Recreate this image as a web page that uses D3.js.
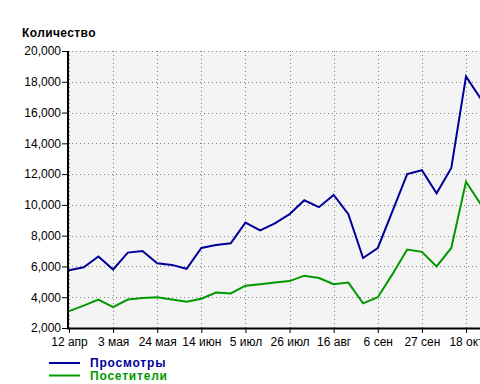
<!DOCTYPE html>
<html><head><meta charset="utf-8">
<script src="https://cdn.jsdelivr.net/npm/d3@7"></script>
<style>body{margin:0;background:#fff}svg{display:block}</style>
</head><body><svg id="c" width="480" height="384"></svg>
<script>
const weeks = ["12 апр","19 апр","26 апр","3 мая","10 мая","17 мая","24 мая","31 мая","7 июн","14 июн","21 июн","28 июн","5 июл","12 июл","19 июл","26 июл","2 авг","9 авг","16 авг","23 авг","30 авг","6 сен","13 сен","20 сен","27 сен","4 окт","11 окт","18 окт","25 окт"];
const views = [5750,5950,6650,5800,6900,7000,6200,6100,5850,7200,7400,7500,8850,8350,8800,9400,10300,9850,10650,9400,6550,7200,9600,12000,12250,10750,12400,18350,16900];
const visitors = [3100,3450,3850,3350,3850,3950,4000,3850,3700,3900,4300,4250,4750,4850,4950,5050,5400,5250,4850,4950,3600,4000,5500,7100,6950,6000,7200,11500,10050];
const yTicks = [2000,4000,6000,8000,10000,12000,14000,16000,18000,20000];
const xTickIdx = [0,3,6,9,12,15,18,21,24,27];
const seriesNames = ["Просмотры","Посетители"];
const colors = ["#000099","#009900"];

const svg = d3.select("#c");
const pL = 68, pT = 51, pB = 328, pR = 495;
const x = d3.scaleLinear().domain([0,27]).range([69,466]);
const y = d3.scaleLinear().domain([2000,20000]).range([pB, pT]);

svg.append("rect").attr("x",pL).attr("y",pT).attr("width",pR-pL).attr("height",pB-pT).attr("fill","#f4f4f4");

// grid
const g = svg.append("g").attr("stroke","#808080").attr("stroke-width",1).attr("stroke-dasharray","1,3");
yTicks.forEach(t=>{ g.append("line").attr("x1",pL).attr("x2",pR).attr("y1",Math.round(y(t))+0.5).attr("y2",Math.round(y(t))+0.5); });
xTickIdx.forEach(i=>{ g.append("line").attr("x1",Math.round(x(i))+0.5).attr("x2",Math.round(x(i))+0.5).attr("y1",pT).attr("y2",pB); });

const line = d3.line().x((d,i)=>x(i)).y(d=>y(d));
[views, visitors].forEach((s,k)=>{
  svg.append("path").attr("d",line(s)).attr("fill","none").attr("stroke",colors[k]).attr("stroke-width",2).attr("stroke-linejoin","miter");
});

// axes
const ya = svg.append("g").attr("transform",`translate(${pL},0)`)
  .call(d3.axisLeft(y).tickValues(yTicks).tickFormat(d3.format(",")).tickSize(6).tickPadding(1));
const xa = svg.append("g").attr("transform",`translate(0,${pB})`)
  .call(d3.axisBottom(x).tickValues(xTickIdx).tickFormat(i=>weeks[i]).tickSize(5).tickPadding(4));
[ya,xa].forEach(a=>{
  a.select(".domain").remove();
  a.selectAll("text").attr("font-family","'Liberation Sans', Arial, sans-serif").attr("font-size",12).attr("fill","#000");
  a.selectAll(".tick line").attr("stroke","#000");
});
svg.append("line").attr("x1",pL).attr("x2",pL).attr("y1",pT).attr("y2",pB+1).attr("stroke","#000").attr("stroke-width",2);
svg.append("line").attr("x1",pL-1).attr("x2",480).attr("y1",pB+0.5).attr("y2",pB+0.5).attr("stroke","#000").attr("stroke-width",2);

svg.append("text").attr("x",22).attr("y",37).text("Количество")
  .attr("font-family","'Liberation Sans', Arial, sans-serif").attr("font-size",12).attr("font-weight","bold").attr("letter-spacing",0.4);

seriesNames.forEach((n,k)=>{
  const yy = 363 + k*12.5;
  svg.append("line").attr("x1",49).attr("x2",80).attr("y1",yy).attr("y2",yy).attr("stroke",colors[k]).attr("stroke-width",2);
  svg.append("text").attr("x",90).attr("y",yy+4).text(n).attr("fill",colors[k])
    .attr("font-family","'Liberation Sans', Arial, sans-serif").attr("font-size",12).attr("font-weight","bold").attr("letter-spacing",0.8);
});
</script></body></html>
